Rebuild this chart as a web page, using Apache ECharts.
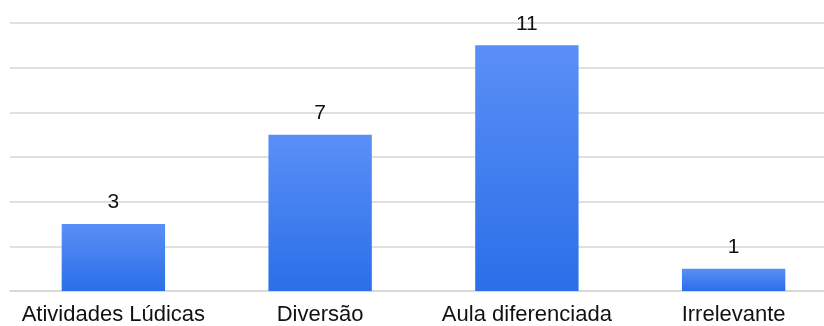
<!DOCTYPE html>
<html>
<head>
<meta charset="utf-8">
<script src="https://cdn.jsdelivr.net/npm/echarts@6/dist/echarts.min.js"></script>
<style>
  html, body { margin: 0; padding: 0; background: #fff; }
  #chart { width: 824px; height: 326px; }
</style>
</head>
<body>
<div id="chart"></div>
<script>
// Respostas por categoria
const categories = ['Atividades Lúdicas', 'Diversão', 'Aula diferenciada', 'Irrelevante'];
const counts = [3, 7, 11, 1];

const chart = echarts.init(document.getElementById('chart'), null, { renderer: 'canvas' });

chart.setOption({
  animation: false,
  backgroundColor: '#ffffff',
  grid: {
    left: 10, top: 23, width: 827, height: 268,
    containLabel: false,
    outerBoundsMode: 'none'
  },
  xAxis: {
    type: 'category',
    data: categories,
    axisLine: { show: true, lineStyle: { color: '#d6d6d6', width: 1.5 } },
    axisTick: { show: false },
    axisLabel: {
      color: '#111',
      fontFamily: 'Liberation Sans, Arial, sans-serif',
      fontSize: 22,
      margin: 13,
      interval: 0
    }
  },
  yAxis: {
    type: 'value',
    min: 0,
    max: 12,
    interval: 2,
    axisLabel: { show: false },
    axisLine: { show: false },
    axisTick: { show: false },
    splitLine: { lineStyle: { color: '#d6d6d6', width: 1.5 } }
  },
  series: [{
    type: 'bar',
    data: counts,
    barWidth: '50%',
    itemStyle: {
      color: new echarts.graphic.LinearGradient(0, 0, 0, 1, [
        { offset: 0, color: '#5a8ff6' },
        { offset: 1, color: '#2a6fe8' }
      ])
    },
    label: {
      show: true,
      position: 'top',
      distance: 11,
      color: '#111',
      fontFamily: 'Liberation Sans, Arial, sans-serif',
      fontSize: 21
    }
  }]
});
</script>
</body>
</html>
